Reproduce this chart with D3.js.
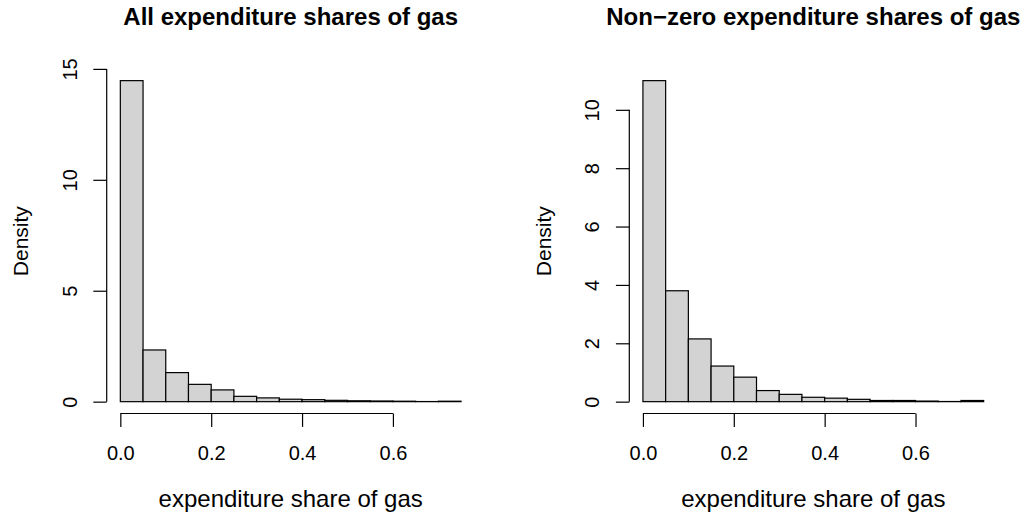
<!DOCTYPE html>
<html>
<head>
<meta charset="utf-8">
<script src="https://cdn.jsdelivr.net/npm/d3@7"></script>
<style>
  html, body { margin: 0; padding: 0; background: #ffffff; }
  svg { display: block; }
  text { font-family: "Liberation Sans", Arial, Helvetica, sans-serif; fill: #000; }
</style>
</head>
<body>
<svg id="chart" width="1030" height="519"></svg>
<script>
// Histogram bins of gas expenditure shares (bin width 0.05, from 0 to 0.75)
const binEdges = [0, 0.05, 0.10, 0.15, 0.20, 0.25, 0.30, 0.35, 0.40, 0.45, 0.50, 0.55, 0.60, 0.65, 0.70, 0.75];

// Density of each bin, all households
const densityAll = [14.47, 2.33, 1.31, 0.78, 0.53, 0.24, 0.17, 0.11, 0.09, 0.06, 0.04, 0.03, 0.02, 0.005, 0.02];

// Density of each bin, households with a non-zero gas share
const densityNonZero = [11.0, 3.80, 2.15, 1.22, 0.84, 0.38, 0.25, 0.15, 0.12, 0.08, 0.04, 0.04, 0.02, 0.005, 0.04];

// Axis tick values
const xTicks = [0, 0.2, 0.4, 0.6];
const xTickLabels = ["0.0", "0.2", "0.4", "0.6"];
const yTicksAll = [0, 5, 10, 15];
const yTicksNonZero = [0, 2, 4, 6, 8, 10];

const titles = ["All expenditure shares of gas", "Non\u2212zero expenditure shares of gas"];
const xLabel = "expenditure share of gas";
const yLabel = "Density";

const svg = d3.select("#chart");
svg.append("rect").attr("width", 1030).attr("height", 519).attr("fill", "#fff");

const panels = [
  { left: 106.7, right: 474.7, dens: densityAll, yTicks: yTicksAll, title: titles[0] },
  { left: 629.3, right: 997.3, dens: densityNonZero, yTicks: yTicksNonZero, title: titles[1] }
];
const plotTop = 67.8, plotBottom = 414.5;
const tickLen = 13.4;
const fontSize = 20, titleSize = 24, xLabSize = 24, yLabSize = 21;

panels.forEach(p => {
  const g = svg.append("g");
  const xmin = binEdges[0], xmax = binEdges[binEdges.length - 1];
  const xpad = (xmax - xmin) * 0.04;
  const x = d3.scaleLinear().domain([xmin - xpad, xmax + xpad]).range([p.left, p.right]);
  const ymax = d3.max(p.dens);
  const y = d3.scaleLinear().domain([-0.04 * ymax, 1.04 * ymax]).range([plotBottom, plotTop]);

  // bars
  const bins = p.dens.map((d, i) => ({ x0: binEdges[i], x1: binEdges[i + 1], d }));
  g.selectAll("rect.bar").data(bins).join("rect")
    .attr("class", "bar")
    .attr("x", b => x(b.x0))
    .attr("width", b => x(b.x1) - x(b.x0))
    .attr("y", b => y(b.d))
    .attr("height", b => y(0) - y(b.d))
    .attr("fill", "#d3d3d3")
    .attr("stroke", "#000")
    .attr("stroke-width", 1.2);

  // x axis
  const xAxis = d3.axisBottom(x).tickValues(xTicks)
    .tickFormat((d, i) => xTickLabels[i])
    .tickSize(tickLen).tickPadding(8);
  const gx = g.append("g").attr("transform", `translate(0,${plotBottom - 1})`).call(xAxis);
  gx.select(".domain").remove();
  gx.append("line")
    .attr("x1", x(xTicks[0])).attr("x2", x(xTicks[xTicks.length - 1]))
    .attr("stroke", "#000").attr("stroke-width", 1.2);
  gx.selectAll(".tick line").attr("stroke", "#000").attr("stroke-width", 1.2);
  gx.selectAll(".tick text")
    .attr("y", null).attr("dy", null)
    .attr("transform", `translate(0,${459.5 - (plotBottom - 1)})`)
    .style("font-size", fontSize + "px")
    .style("font-family", '"Liberation Sans", Arial, sans-serif')
    .attr("fill", "#000");

  // y axis
  const yAxis = d3.axisLeft(y).tickValues(p.yTicks).tickFormat(d3.format("d"))
    .tickSize(tickLen);
  const gy = g.append("g").attr("transform", `translate(${p.left},0)`).call(yAxis);
  gy.select(".domain").remove();
  gy.append("line")
    .attr("y1", y(p.yTicks[0])).attr("y2", y(p.yTicks[p.yTicks.length - 1]))
    .attr("stroke", "#000").attr("stroke-width", 1.2);
  gy.selectAll(".tick line").attr("stroke", "#000").attr("stroke-width", 1.2);
  gy.selectAll(".tick text")
    .attr("x", null).attr("dy", null)
    .attr("text-anchor", "middle")
    .attr("transform", "translate(-30,0) rotate(-90)")
    .style("font-size", fontSize + "px")
    .style("font-family", '"Liberation Sans", Arial, sans-serif')
    .attr("fill", "#000");

  const cx = (p.left + p.right) / 2;
  const cy = (plotTop + plotBottom) / 2;

  // title
  g.append("text").attr("x", cx).attr("y", 25)
    .attr("text-anchor", "middle")
    .style("font-size", titleSize + "px").style("font-weight", "bold")
    .text(p.title);

  // x label
  g.append("text").attr("x", cx).attr("y", 507)
    .attr("text-anchor", "middle")
    .style("font-size", xLabSize + "px")
    .text(xLabel);

  // y label
  g.append("text")
    .attr("transform", `translate(${p.left - 78.5},${cy}) rotate(-90)`)
    .attr("text-anchor", "middle")
    .style("font-size", yLabSize + "px")
    .text(yLabel);
});
</script>
</body>
</html>
